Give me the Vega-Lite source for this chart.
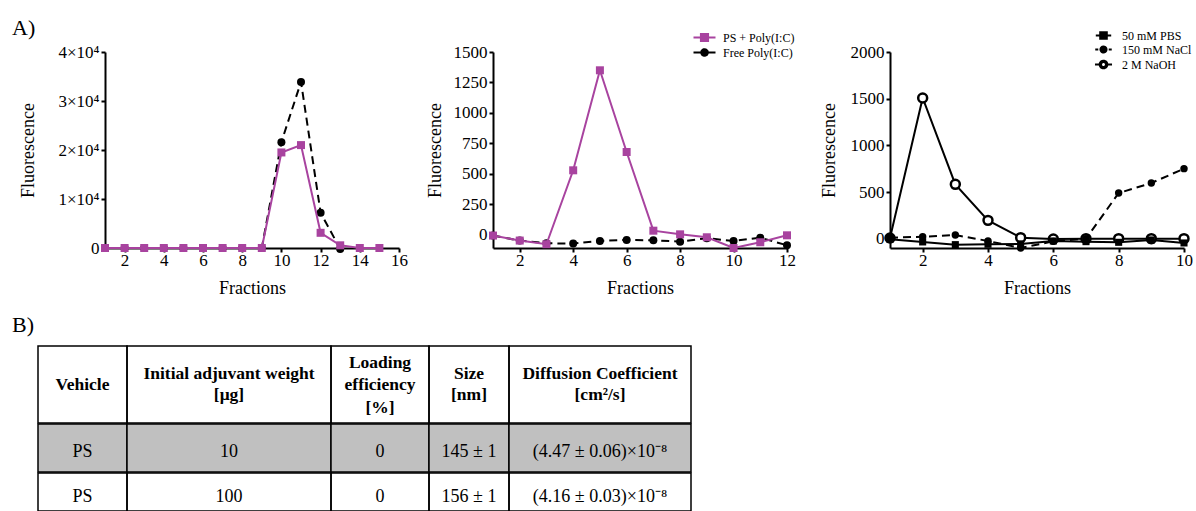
{
  "$schema": "https://vega.github.io/schema/vega-lite/v6.json",
  "autosize": {"type": "pad"},
  "padding": {"left": 12, "top": 17, "right": 0, "bottom": 0},
  "background": "white",
  "config": {
    "font": "Liberation Serif",
    "view": {"stroke": null},
    "axis": {"domainColor": "black", "domainWidth": 2, "tickColor": "black", "tickWidth": 2, "tickSize": 4, "labelColor": "black", "labelFontSize": 17, "labelFont": "Liberation Serif", "titleFont": "Liberation Serif", "titleFontSize": 18, "titleFontWeight": "normal", "titleColor": "black", "grid": false, "labelPadding": 2, "labelFlush": false, "format": "d"},
    "axisX": {"labelPadding": 0, "titlePadding": 11},
    "legend": {"labelFont": "Liberation Serif", "labelFontSize": 12, "labelColor": "black"},
    "title": {"font": "Liberation Serif", "fontSize": 22, "fontWeight": "normal", "color": "black"},
    "text": {"font": "Liberation Serif", "color": "black"}
  },
  "datasets": {
    "c1": [
      {"f": 1, "v": 0, "s": "Free Poly(I:C)"}, {"f": 2, "v": 0, "s": "Free Poly(I:C)"}, {"f": 3, "v": 0, "s": "Free Poly(I:C)"}, {"f": 4, "v": 0, "s": "Free Poly(I:C)"}, {"f": 5, "v": 0, "s": "Free Poly(I:C)"}, {"f": 6, "v": 0, "s": "Free Poly(I:C)"}, {"f": 7, "v": 0, "s": "Free Poly(I:C)"}, {"f": 8, "v": 0, "s": "Free Poly(I:C)"}, {"f": 9, "v": 0, "s": "Free Poly(I:C)"}, {"f": 10, "v": 21600, "s": "Free Poly(I:C)"}, {"f": 11, "v": 33900, "s": "Free Poly(I:C)"}, {"f": 12, "v": 7200, "s": "Free Poly(I:C)"}, {"f": 13, "v": -200, "s": "Free Poly(I:C)"},
      {"f": 1, "v": 0, "s": "PS + Poly(I:C)"}, {"f": 2, "v": 0, "s": "PS + Poly(I:C)"}, {"f": 3, "v": 0, "s": "PS + Poly(I:C)"}, {"f": 4, "v": 0, "s": "PS + Poly(I:C)"}, {"f": 5, "v": 0, "s": "PS + Poly(I:C)"}, {"f": 6, "v": 0, "s": "PS + Poly(I:C)"}, {"f": 7, "v": 0, "s": "PS + Poly(I:C)"}, {"f": 8, "v": 0, "s": "PS + Poly(I:C)"}, {"f": 9, "v": 0, "s": "PS + Poly(I:C)"}, {"f": 10, "v": 19500, "s": "PS + Poly(I:C)"}, {"f": 11, "v": 21000, "s": "PS + Poly(I:C)"}, {"f": 12, "v": 3100, "s": "PS + Poly(I:C)"}, {"f": 13, "v": 550, "s": "PS + Poly(I:C)"}, {"f": 14, "v": 0, "s": "PS + Poly(I:C)"}, {"f": 15, "v": 0, "s": "PS + Poly(I:C)"}
    ],
    "c2": [
      {"f": 1, "v": -5, "s": "Free Poly(I:C)"}, {"f": 2, "v": -46, "s": "Free Poly(I:C)"}, {"f": 3, "v": -68, "s": "Free Poly(I:C)"}, {"f": 4, "v": -71, "s": "Free Poly(I:C)"}, {"f": 5, "v": -49, "s": "Free Poly(I:C)"}, {"f": 6, "v": -41, "s": "Free Poly(I:C)"}, {"f": 7, "v": -44, "s": "Free Poly(I:C)"}, {"f": 8, "v": -55, "s": "Free Poly(I:C)"}, {"f": 9, "v": -27, "s": "Free Poly(I:C)"}, {"f": 10, "v": -49, "s": "Free Poly(I:C)"}, {"f": 11, "v": -22, "s": "Free Poly(I:C)"}, {"f": 12, "v": -85, "s": "Free Poly(I:C)"},
      {"f": 1, "v": -5, "s": "PS + Poly(I:C)"}, {"f": 2, "v": -46, "s": "PS + Poly(I:C)"}, {"f": 3, "v": -76, "s": "PS + Poly(I:C)"}, {"f": 4, "v": 530, "s": "PS + Poly(I:C)"}, {"f": 5, "v": 1350, "s": "PS + Poly(I:C)"}, {"f": 6, "v": 680, "s": "PS + Poly(I:C)"}, {"f": 7, "v": 35, "s": "PS + Poly(I:C)"}, {"f": 8, "v": 5, "s": "PS + Poly(I:C)"}, {"f": 9, "v": -19, "s": "PS + Poly(I:C)"}, {"f": 10, "v": -107, "s": "PS + Poly(I:C)"}, {"f": 11, "v": -60, "s": "PS + Poly(I:C)"}, {"f": 12, "v": -3, "s": "PS + Poly(I:C)"}
    ],
    "c3": [
      {"f": 1, "v": 7, "s": "2 M NaOH"}, {"f": 2, "v": 1507, "s": "2 M NaOH"}, {"f": 3, "v": 582, "s": "2 M NaOH"}, {"f": 4, "v": 196, "s": "2 M NaOH"}, {"f": 5, "v": 11, "s": "2 M NaOH"}, {"f": 6, "v": -4, "s": "2 M NaOH"}, {"f": 7, "v": 0, "s": "2 M NaOH"}, {"f": 8, "v": 0, "s": "2 M NaOH"}, {"f": 9, "v": 0, "s": "2 M NaOH"}, {"f": 10, "v": 0, "s": "2 M NaOH"},
      {"f": 1, "v": -7, "s": "50 mM PBS"}, {"f": 2, "v": -35, "s": "50 mM PBS"}, {"f": 3, "v": -64, "s": "50 mM PBS"}, {"f": 4, "v": -60, "s": "50 mM PBS"}, {"f": 5, "v": -57, "s": "50 mM PBS"}, {"f": 6, "v": -25, "s": "50 mM PBS"}, {"f": 7, "v": -32, "s": "50 mM PBS"}, {"f": 8, "v": -39, "s": "50 mM PBS"}, {"f": 9, "v": -14, "s": "50 mM PBS"}, {"f": 10, "v": -46, "s": "50 mM PBS"},
      {"f": 1, "v": 10, "s": "150 mM NaCl"}, {"f": 2, "v": 21, "s": "150 mM NaCl"}, {"f": 3, "v": 39, "s": "150 mM NaCl"}, {"f": 4, "v": -25, "s": "150 mM NaCl"}, {"f": 5, "v": -100, "s": "150 mM NaCl"}, {"f": 6, "v": -29, "s": "150 mM NaCl"}, {"f": 7, "v": 0, "s": "150 mM NaCl"}, {"f": 8, "v": 489, "s": "150 mM NaCl"}, {"f": 9, "v": 596, "s": "150 mM NaCl"}, {"f": 10, "v": 750, "s": "150 mM NaCl"}
    ],
    "table": [
      {"r": 0, "c": 0, "t": "Vehicle"}, {"r": 0, "c": 1, "t": "Initial adjuvant weight\n[μg]"}, {"r": 0, "c": 2, "t": "Loading\nefficiency\n[%]"}, {"r": 0, "c": 3, "t": "Size\n[nm]"}, {"r": 0, "c": 4, "t": "Diffusion Coefficient\n[cm²/s]"},
      {"r": 1, "c": 0, "t": "PS"}, {"r": 1, "c": 1, "t": "10"}, {"r": 1, "c": 2, "t": "0"}, {"r": 1, "c": 3, "t": "145 ± 1"}, {"r": 1, "c": 4, "t": "(4.47 ± 0.06)×10⁻⁸"},
      {"r": 2, "c": 0, "t": "PS"}, {"r": 2, "c": 1, "t": "100"}, {"r": 2, "c": 2, "t": "0"}, {"r": 2, "c": 3, "t": "156 ± 1"}, {"r": 2, "c": 4, "t": "(4.16 ± 0.03)×10⁻⁸"}
    ]
  },
  "resolve": {"scale": {"color": "independent"}, "legend": {"color": "independent"}},
  "spacing": 17,
  "vconcat": [
    {
      "title": {"text": "A)", "anchor": "start", "frame": "group", "dx": -26, "offset": -11},
      "bounds": "flush",
      "spacing": 66,
      "resolve": {"scale": {"color": "independent"}, "legend": {"color": "independent"}},
      "hconcat": [
        {"width": 1, "height": 10, "data": {"values": [{}]}, "mark": {"type": "text", "text": ""}},
        {
          "bounds": "flush",
          "spacing": 94,
          "resolve": {"scale": {"color": "independent"}, "legend": {"color": "independent"}},
          "hconcat": [
            {
              "width": 294, "height": 196,
              "data": {"name": "c1"},
              "encoding": {
                "x": {"field": "f", "type": "quantitative", "scale": {"domain": [1, 16], "nice": false, "zero": false}, "axis": {"values": [2, 4, 6, 8, 10, 12, 14, 16], "title": "Fractions"}},
                "y": {"field": "v", "type": "quantitative", "scale": {"domain": [0, 40000], "nice": false}, "axis": {"values": [0, 10000, 20000, 30000, 40000], "title": "Fluorescence", "titlePadding": 20, "labelExpr": "datum.value == 0 ? '0' : format(datum.value / 10000, 'd') + '×10⁴'"}},
                "color": {"field": "s", "type": "nominal", "scale": {"domain": ["PS + Poly(I:C)", "Free Poly(I:C)"], "range": ["#a8439f", "black"]}, "legend": null}
              },
              "layer": [
                {"transform": [{"filter": "datum.s == 'Free Poly(I:C)'"}], "mark": {"type": "line", "strokeWidth": 2, "strokeDash": [8, 5]}},
                {"transform": [{"filter": "datum.s == 'Free Poly(I:C)'"}], "mark": {"type": "point", "shape": "circle", "filled": true, "size": 64, "opacity": 1}},
                {"transform": [{"filter": "datum.s == 'PS + Poly(I:C)'"}], "mark": {"type": "line", "strokeWidth": 2}},
                {"transform": [{"filter": "datum.s == 'PS + Poly(I:C)'"}], "mark": {"type": "point", "shape": "square", "filled": true, "size": 64, "opacity": 1}}
              ]
            },
            {
              "bounds": "flush",
              "spacing": 103,
              "resolve": {"scale": {"color": "independent"}, "legend": {"color": "independent"}},
              "hconcat": [
                {
                  "width": 294, "height": 196,
                  "data": {"name": "c2"},
                  "encoding": {
                    "x": {"field": "f", "type": "quantitative", "scale": {"domain": [1, 12], "nice": false, "zero": false}, "axis": {"values": [2, 4, 6, 8, 10, 12], "title": "Fractions"}},
                    "y": {"field": "v", "type": "quantitative", "scale": {"domain": [-107, 1500], "nice": false, "zero": false}, "axis": {"values": [0, 250, 500, 750, 1000, 1250, 1500], "title": "Fluorescence", "titlePadding": 9}},
                    "color": {"field": "s", "type": "nominal", "scale": {"domain": ["PS + Poly(I:C)", "Free Poly(I:C)"], "range": ["#a8439f", "black"]},
                      "legend": {"orient": "none", "legendX": 205, "legendY": -21, "title": null, "padding": 0, "symbolSize": 121, "labelOffset": 12, "rowPadding": -1, "labelFontSize": 12,
                        "encode": {"symbols": {"update": {
                          "shape": {"signal": "datum.value === 'PS + Poly(I:C)' ? 'M-2,0H2M-0.65,-0.65H0.65V0.65H-0.65Z' : 'M-2,0H2M-0.6,0A0.6,0.6 0 1,0 0.6,0A0.6,0.6 0 1,0 -0.6,0Z'"},
                          "fill": {"signal": "datum.value === 'PS + Poly(I:C)' ? '#a8439f' : 'black'"},
                          "stroke": {"signal": "datum.value === 'PS + Poly(I:C)' ? '#a8439f' : 'black'"},
                          "strokeWidth": {"value": 2},
                          "strokeDash": {"value": [1, 0]},
                          "opacity": {"value": 1}
                        }}}
                      }
                    }
                  },
                  "layer": [
                    {"transform": [{"filter": "datum.s == 'Free Poly(I:C)'"}], "mark": {"type": "line", "strokeWidth": 2, "strokeDash": [8, 5]}},
                    {"transform": [{"filter": "datum.s == 'Free Poly(I:C)'"}], "mark": {"type": "point", "shape": "circle", "filled": true, "size": 64, "opacity": 1}},
                    {"transform": [{"filter": "datum.s == 'PS + Poly(I:C)'"}], "mark": {"type": "line", "strokeWidth": 2}},
                    {"transform": [{"filter": "datum.s == 'PS + Poly(I:C)'"}], "mark": {"type": "point", "shape": "square", "filled": true, "size": 64, "opacity": 1}}
                  ]
                },
                {
                  "width": 294, "height": 196,
                  "data": {"name": "c3"},
                  "encoding": {
                    "x": {"field": "f", "type": "quantitative", "scale": {"domain": [1, 10], "nice": false, "zero": false}, "axis": {"values": [2, 4, 6, 8, 10], "title": "Fractions"}},
                    "y": {"field": "v", "type": "quantitative", "scale": {"domain": [-100, 2000], "nice": false, "zero": false}, "axis": {"values": [0, 500, 1000, 1500, 2000], "title": "Fluorescence", "titlePadding": 12}},
                    "color": {"field": "s", "type": "nominal", "scale": {"domain": ["50 mM PBS", "150 mM NaCl", "2 M NaOH"], "range": ["black", "black", "black"]},
                      "legend": {"orient": "none", "legendX": 207, "legendY": -23, "title": null, "padding": 0, "symbolSize": 121, "labelOffset": 12, "rowPadding": -1, "labelFontSize": 12,
                        "encode": {"symbols": {"update": {
                          "shape": {"signal": "datum.value === '50 mM PBS' ? 'M-1.4,0H1.4M-0.6,-0.6H0.6V0.6H-0.6Z' : datum.value === '150 mM NaCl' ? 'M-1.5,0H-0.95M0.95,0H1.5M-0.55,0A0.55,0.55 0 1,0 0.55,0A0.55,0.55 0 1,0 -0.55,0Z' : 'M-1.55,0H-0.7M0.7,0H1.55M-0.7,0A0.7,0.7 0 1,0 0.7,0A0.7,0.7 0 1,0 -0.7,0ZM-0.45,0A0.45,0.45 0 1,1 0.45,0A0.45,0.45 0 1,1 -0.45,0Z'"},
                          "fill": {"signal": "datum.value === '2 M NaOH' ? 'white' : 'black'"},
                          "stroke": {"value": "black"},
                          "strokeWidth": {"value": 2},
                          "strokeDash": {"value": [1, 0]},
                          "opacity": {"value": 1}
                        }}}
                      }
                    }
                  },
                  "layer": [
                    {"transform": [{"filter": "datum.s == '2 M NaOH'"}], "mark": {"type": "line", "strokeWidth": 2}},
                    {"transform": [{"filter": "datum.s == '2 M NaOH'"}], "mark": {"type": "point", "shape": "circle", "filled": false, "fill": "white", "strokeWidth": 2.5, "size": 80, "opacity": 1}},
                    {"transform": [{"filter": "datum.s == '50 mM PBS'"}], "mark": {"type": "line", "strokeWidth": 2}},
                    {"transform": [{"filter": "datum.s == '50 mM PBS'"}], "mark": {"type": "point", "shape": "square", "filled": true, "size": 50, "opacity": 1}},
                    {"transform": [{"filter": "datum.s == '150 mM NaCl'"}], "mark": {"type": "line", "strokeWidth": 2, "strokeDash": [8, 5]}},
                    {"transform": [{"filter": "datum.s == '150 mM NaCl'"}], "mark": {"type": "point", "shape": "circle", "filled": true, "size": 55, "opacity": 1}}
                  ]
                }
              ]
            }
          ]
        }
      ]
    },
    {
      "title": {"text": "B)", "anchor": "start", "frame": "group", "dx": -26, "offset": 8},
      "spacing": -3,
      "vconcat": [
        {
          "bounds": "flush", "spacing": 0,
          "hconcat": [
            {"width": 89, "height": 77, "view": {"stroke": "black", "strokeWidth": 1.5}, "data": {"name": "table"}, "transform": [{"filter": "datum.r == 0 && datum.c == 0"}], "mark": {"type": "text", "fontWeight": "bold", "fontSize": 17.5, "lineBreak": "\n", "lineHeight": 21, "dy": 0}, "encoding": {"text": {"field": "t"}}},
            {"width": 204, "height": 77, "view": {"stroke": "black", "strokeWidth": 1.5}, "data": {"name": "table"}, "transform": [{"filter": "datum.r == 0 && datum.c == 1"}], "mark": {"type": "text", "fontWeight": "bold", "fontSize": 17.5, "lineBreak": "\n", "lineHeight": 21, "dy": -11}, "encoding": {"text": {"field": "t"}}},
            {"width": 98, "height": 77, "view": {"stroke": "black", "strokeWidth": 1.5}, "data": {"name": "table"}, "transform": [{"filter": "datum.r == 0 && datum.c == 2"}], "mark": {"type": "text", "fontWeight": "bold", "fontSize": 17.5, "lineBreak": "\n", "lineHeight": 22.5, "dy": -22}, "encoding": {"text": {"field": "t"}}},
            {"width": 80, "height": 77, "view": {"stroke": "black", "strokeWidth": 1.5}, "data": {"name": "table"}, "transform": [{"filter": "datum.r == 0 && datum.c == 3"}], "mark": {"type": "text", "fontWeight": "bold", "fontSize": 17.5, "lineBreak": "\n", "lineHeight": 21, "dy": -11}, "encoding": {"text": {"field": "t"}}},
            {"width": 182, "height": 77, "view": {"stroke": "black", "strokeWidth": 1.5}, "data": {"name": "table"}, "transform": [{"filter": "datum.r == 0 && datum.c == 4"}], "mark": {"type": "text", "fontWeight": "bold", "fontSize": 17.5, "lineBreak": "\n", "lineHeight": 21, "dy": -11}, "encoding": {"text": {"field": "t"}}}
          ]
        },
        {
          "bounds": "flush", "spacing": 0,
          "hconcat": [
            {"width": 89, "height": 48, "view": {"stroke": "black", "strokeWidth": 1.5, "fill": "#c0c0c0"}, "data": {"name": "table"}, "transform": [{"filter": "datum.r == 1 && datum.c == 0"}], "mark": {"type": "text", "fontSize": 18, "dy": 4}, "encoding": {"text": {"field": "t"}}},
            {"width": 204, "height": 48, "view": {"stroke": "black", "strokeWidth": 1.5, "fill": "#c0c0c0"}, "data": {"name": "table"}, "transform": [{"filter": "datum.r == 1 && datum.c == 1"}], "mark": {"type": "text", "fontSize": 18, "dy": 4}, "encoding": {"text": {"field": "t"}}},
            {"width": 98, "height": 48, "view": {"stroke": "black", "strokeWidth": 1.5, "fill": "#c0c0c0"}, "data": {"name": "table"}, "transform": [{"filter": "datum.r == 1 && datum.c == 2"}], "mark": {"type": "text", "fontSize": 18, "dy": 4}, "encoding": {"text": {"field": "t"}}},
            {"width": 80, "height": 48, "view": {"stroke": "black", "strokeWidth": 1.5, "fill": "#c0c0c0"}, "data": {"name": "table"}, "transform": [{"filter": "datum.r == 1 && datum.c == 3"}], "mark": {"type": "text", "fontSize": 18, "dy": 4}, "encoding": {"text": {"field": "t"}}},
            {"width": 182, "height": 48, "view": {"stroke": "black", "strokeWidth": 1.5, "fill": "#c0c0c0"}, "data": {"name": "table"}, "transform": [{"filter": "datum.r == 1 && datum.c == 4"}], "mark": {"type": "text", "fontSize": 18, "dy": 4}, "encoding": {"text": {"field": "t"}}}
          ]
        },
        {
          "bounds": "flush", "spacing": 0,
          "hconcat": [
            {"width": 89, "height": 38, "view": {"stroke": "black", "strokeWidth": 1.5}, "data": {"name": "table"}, "transform": [{"filter": "datum.r == 2 && datum.c == 0"}], "mark": {"type": "text", "fontSize": 18, "dy": 5}, "encoding": {"text": {"field": "t"}}},
            {"width": 204, "height": 38, "view": {"stroke": "black", "strokeWidth": 1.5}, "data": {"name": "table"}, "transform": [{"filter": "datum.r == 2 && datum.c == 1"}], "mark": {"type": "text", "fontSize": 18, "dy": 5}, "encoding": {"text": {"field": "t"}}},
            {"width": 98, "height": 38, "view": {"stroke": "black", "strokeWidth": 1.5}, "data": {"name": "table"}, "transform": [{"filter": "datum.r == 2 && datum.c == 2"}], "mark": {"type": "text", "fontSize": 18, "dy": 5}, "encoding": {"text": {"field": "t"}}},
            {"width": 80, "height": 38, "view": {"stroke": "black", "strokeWidth": 1.5}, "data": {"name": "table"}, "transform": [{"filter": "datum.r == 2 && datum.c == 3"}], "mark": {"type": "text", "fontSize": 18, "dy": 5}, "encoding": {"text": {"field": "t"}}},
            {"width": 182, "height": 38, "view": {"stroke": "black", "strokeWidth": 1.5}, "data": {"name": "table"}, "transform": [{"filter": "datum.r == 2 && datum.c == 4"}], "mark": {"type": "text", "fontSize": 18, "dy": 5}, "encoding": {"text": {"field": "t"}}}
          ]
        }
      ]
    }
  ]
}
